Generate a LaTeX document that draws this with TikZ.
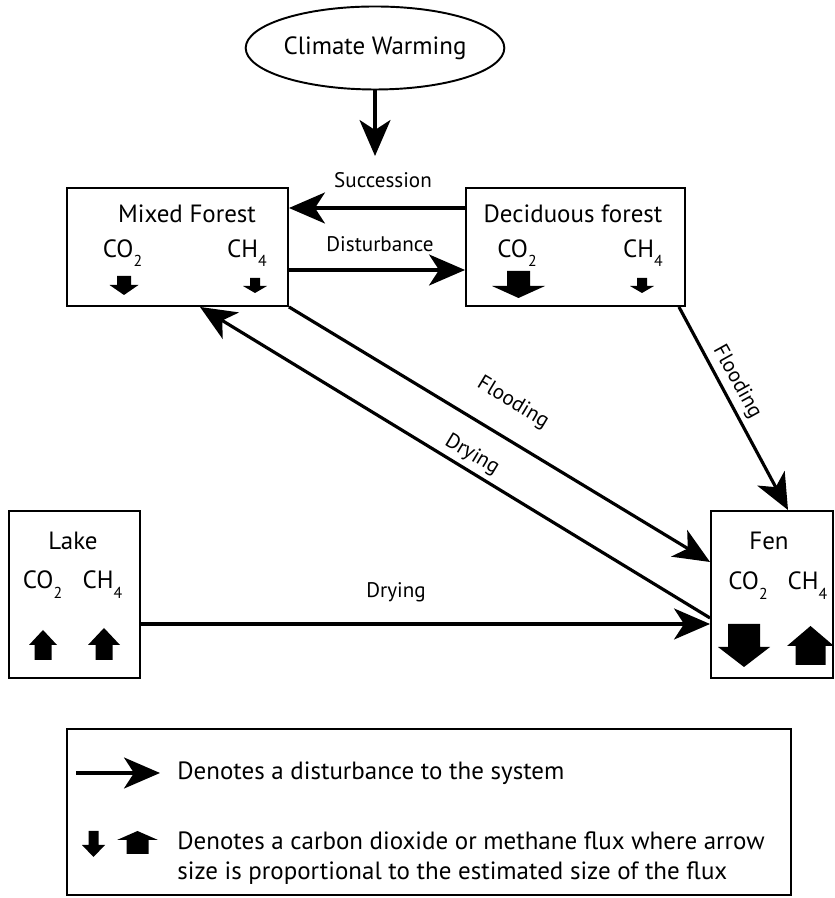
\documentclass[tikz,border=0pt]{standalone}
\usepackage{fontspec}
\setmainfont{PT Sans}
\usetikzlibrary{positioning,arrows.meta,shapes.geometric}

% filled flux arrow: base point, shaft half width, head half width, shaft length, head length, direction (1 up, -1 down)
\newcommand{\flux}[6]{%
  \begin{scope}[shift={#1},yscale=#6]
    \fill[fluxfill] (-#2,0) -- (#2,0) -- (#2,#4) -- (#3,#4) -- (0,{#4+#5}) -- (-#3,#4) -- (-#2,#4) -- cycle;
  \end{scope}}
\newcommand{\gasco}{CO\raisebox{-0.75ex}{\fontsize{9}{9}\selectfont 2}}
\newcommand{\gasch}{CH\raisebox{-0.75ex}{\fontsize{9}{9}\selectfont 4}}

\begin{document}
\begin{tikzpicture}[
  box/.style={rectangle,draw=black,line width=1.1pt,inner sep=0pt},
  txt/.style={font=\fontsize{14.2}{17}\selectfont,inner sep=0pt},
  lbl/.style={font=\fontsize{12}{14}\selectfont,inner sep=0pt},
  conn/.style={-{Stealth[length=0.72cm,width=0.62cm,inset=0.2cm]},line width=1.8pt},
  fluxfill/.style={fill=black}
]
\useasboundingbox (0,0) rectangle (16.68,17.96);

\node[ellipse,draw=black,line width=1.1pt,minimum width=4.12cm,minimum height=1.66cm,txt] (climate) at (7.5,17.0) {Climate Warming};

\node[box,minimum width=4.42cm,minimum height=2.36cm] (mixed) at (3.55,13.02) {};
\node[box,minimum width=4.38cm,minimum height=2.36cm] (decid) at (11.51,13.02) {};
\node[box,minimum width=2.62cm,minimum height=3.34cm] (lake) at (1.49,6.07) {};
\node[box,minimum width=2.44cm,minimum height=3.34cm] (fen) at (15.44,6.07) {};
\node[box,line width=1.6pt,minimum width=14.48cm,minimum height=3.32cm] (key) at (8.58,1.72) {};

% mixed forest
\node[txt] (mixedname) at (3.74,13.68) {Mixed Forest};
\node[txt] (mixedco) at (2.45,12.9) {\gasco};
\node[txt] (mixedch) at (4.94,12.9) {\gasch};
\flux{(2.48,12.44)}{0.14}{0.29}{0.18}{0.2}{-1}
\flux{(5.1,12.4)}{0.1}{0.24}{0.16}{0.14}{-1}

% deciduous forest
\node[txt] (decidname) at (11.46,13.68) {Deciduous forest};
\node[txt] (decidco) at (10.34,12.9) {\gasco};
\node[txt] (decidch) at (12.86,12.9) {\gasch};
\flux{(10.37,12.54)}{0.23}{0.53}{0.3}{0.24}{-1}
\flux{(12.84,12.4)}{0.1}{0.24}{0.16}{0.14}{-1}

% lake
\node[txt] (lakename) at (1.46,7.14) {Lake};
\node[txt] (lakeco) at (0.85,6.27) {\gasco};
\node[txt] (lakech) at (2.05,6.27) {\gasch};
\flux{(0.86,4.76)}{0.17}{0.28}{0.3}{0.3}{1}
\flux{(2.08,4.76)}{0.17}{0.32}{0.3}{0.34}{1}

% fen
\node[txt] (fenname) at (15.38,7.14) {Fen};
\node[txt] (fenco) at (14.96,6.25) {\gasco};
\node[txt] (fench) at (16.15,6.25) {\gasch};
\flux{(14.88,5.48)}{0.32}{0.52}{0.46}{0.4}{-1}
\flux{(16.21,4.66)}{0.3}{0.47}{0.38}{0.4}{1}

% disturbances
\coordinate (cwtip) at (7.5,14.84);
\draw[conn] (climate.south) -- (cwtip);
\draw[conn] ([yshift=0.78cm]decid.west) -- ([yshift=0.78cm]mixed.east);
\draw[conn] ([yshift=-0.46cm]mixed.east) -- ([yshift=-0.46cm]decid.west);
\draw[conn] (mixed.south east) -- ([yshift=0.65cm]fen.west);
\draw[conn] ([yshift=-0.47cm]fen.west) -- ([xshift=0.45cm]mixed.south);
\draw[conn] ([xshift=-0.14cm]decid.south east) -- ([xshift=0.32cm]fen.north);
\draw[conn] ([yshift=-0.59cm]lake.east) -- ([yshift=-0.59cm]fen.west);

\node[lbl] (succ) at (7.66,14.36) {Succession};
\node[lbl] (dist) at (7.6,13.08) {Disturbance};
\node[lbl,rotate=-31] (flood1) at (10.26,9.9) {Flooding};
\node[lbl,rotate=-31] (dry1) at (9.44,8.86) {Drying};
\node[lbl,rotate=-61] (flood2) at (14.74,10.32) {Flooding};
\node[lbl] (dry2) at (7.92,6.12) {Drying};

% key
\coordinate (keyA) at (1.52,2.5);
\coordinate (keyB) at (3.2,2.5);
\draw[conn] (keyA) -- (keyB);
\node[txt,anchor=west] (keydist) at (3.54,2.5) {Denotes a disturbance to the system};
\flux{(1.87,1.34)}{0.1}{0.23}{0.28}{0.24}{-1}
\flux{(2.75,0.88)}{0.22}{0.41}{0.28}{0.18}{1}
\node[txt,anchor=west,align=left] (keyflux) at (3.54,0.8) {Denotes a carbon dioxide or methane flux where arrow\\size is proportional to the estimated size of the flux};

\end{tikzpicture}
\end{document}
